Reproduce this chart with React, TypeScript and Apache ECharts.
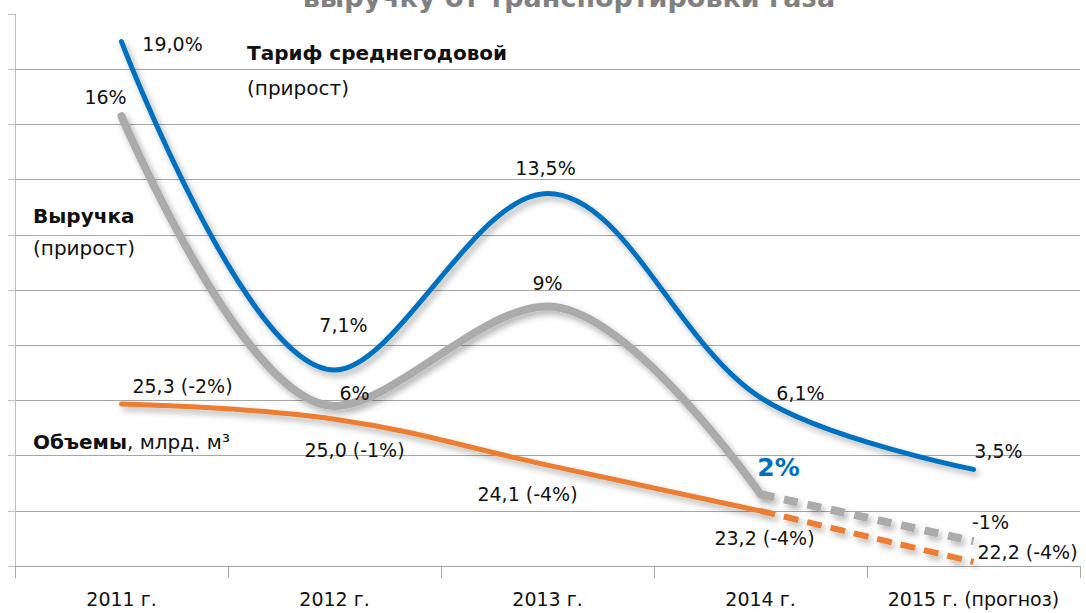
import React, { useEffect, useRef } from 'react';
import * as echarts from 'echarts';

const categories = ['2011 г.', '2012 г.', '2013 г.', '2014 г.', '2015 г. (прогноз)'];

const tariffValues = [19.0, 7.1, 13.5, 6.1, 3.5];
const tariffLabels = ['19,0%', '7,1%', '13,5%', '6,1%', '3,5%'];

// revenue growth line (as plotted in the picture) – solid part and forecast part
const revenueSolid: (number | null)[] = [16.3, 5.8, 9.4, 2.6, null];
const revenueForecast: (number | null)[] = [null, null, null, 2.6, 0.9];
const revenueLabels = ['16%', '6%', '9%', '2%', '-1%'];

// volumes, bcm
const volumeSolid: (number | null)[] = [25.3, 25.0, 24.1, 23.2, null];
const volumeForecast: (number | null)[] = [null, null, null, 23.2, 22.2];
const volumeLabels = ['25,3 (-2%)', '25,0 (-1%)', '24,1 (-4%)', '23,2 (-4%)', '22,2 (-4%)'];

const FONT = '"DejaVu Sans", sans-serif';

// label offsets (positions, kept apart from data)
const tariffOffsets = [[51, 2], [9, -45], [-2, -25], [40, -5], [25, -18]];
const revenueOffsets = [[-16, -19], [20, -13], [0, -24], [18, -27], [17, -19]];
const volumeOffsets = [[61, -18], [20, 31], [-20, 29], [4, 27], [54, -10]];

function buildData(values: (number | null)[], labels: string[], offsets: number[][], showIdx: number[]) {
  return values.map((v, i) => {
    if (v == null) return '-';
    return {
      value: v,
      label: showIdx.includes(i)
        ? { show: true, offset: offsets[i], formatter: labels[i] }
        : { show: false },
    };
  });
}

const baseLabel = {
  show: true,
  position: 'inside',
  fontSize: 19,
  fontFamily: FONT,
  color: '#111',
};

const shadow = {
  shadowColor: 'rgba(0,0,0,0.3)',
  shadowBlur: 6,
  shadowOffsetX: 3,
  shadowOffsetY: 4,
};

export default function App() {
  const ref = useRef<HTMLDivElement>(null);
  useEffect(() => {
    if (!ref.current) return;
    const chart = echarts.init(ref.current, undefined, { renderer: 'svg' });
    const gridColors = ['transparent', '#a6a6a6', '#a6a6a6', '#a6a6a6', '#a6a6a6', '#a6a6a6', '#a6a6a6', '#a6a6a6', '#a6a6a6', '#a6a6a6', 'transparent'];
    const symbolCommon = {
      showSymbol: true,
      symbol: 'circle',
      symbolSize: 1,
      itemStyle: { color: 'transparent', borderWidth: 0 },
    };
    const revData = buildData(revenueSolid, revenueLabels, revenueOffsets, [0, 1, 2, 3]) as any[];
    revData[3].label = {
      show: true,
      offset: revenueOffsets[3],
      formatter: revenueLabels[3],
      color: '#0070c0',
      fontWeight: 'bold',
      fontSize: 25,
    };
    chart.setOption({
      animation: false,
      grid: { left: 15, right: 6, top: 14, bottom: 47 },
      xAxis: {
        type: 'category',
        data: categories,
        boundaryGap: true,
        axisLine: { lineStyle: { color: '#a6a6a6', width: 1 } },
        axisTick: { show: true, interval: 0, length: 12, lineStyle: { color: '#a6a6a6' } },
        axisLabel: { interval: 0, fontSize: 19, fontFamily: FONT, color: '#111', margin: 23 },
      },
      yAxis: [
        {
          type: 'value',
          min: 0,
          max: 20,
          interval: 2,
          axisLine: { show: true, lineStyle: { color: '#bfbfbf' } },
          axisTick: { show: true, length: 7, lineStyle: { color: '#bfbfbf' } },
          axisLabel: { show: false },
          splitLine: { show: true, lineStyle: { color: gridColors, width: 1 } },
        },
        {
          type: 'value',
          min: 22.12,
          max: 32.95,
          show: false,
          splitLine: { show: false },
        },
      ],
      series: [
        {
          type: 'line',
          name: 'Выручка',
          yAxisIndex: 0,
          smooth: 0.35,
          data: revData,
          ...symbolCommon,
          lineStyle: { color: '#ababab', width: 8, cap: 'round', ...shadow },
          label: baseLabel,
          z: 2,
        },
        {
          type: 'line',
          name: 'Выручка прогноз',
          yAxisIndex: 0,
          data: buildData(revenueForecast, revenueLabels, revenueOffsets, [4]),
          ...symbolCommon,
          lineStyle: { color: '#ababab', width: 8, type: [14, 10], ...shadow },
          label: baseLabel,
          z: 2,
        },
        {
          type: 'line',
          name: 'Объемы',
          yAxisIndex: 1,
          smooth: 0.4,
          data: buildData(volumeSolid, volumeLabels, volumeOffsets, [0, 1, 2, 3]),
          ...symbolCommon,
          lineStyle: { color: '#ed7d31', width: 5, cap: 'round', ...shadow },
          label: baseLabel,
          z: 3,
        },
        {
          type: 'line',
          name: 'Объемы прогноз',
          yAxisIndex: 1,
          data: buildData(volumeForecast, volumeLabels, volumeOffsets, [4]),
          ...symbolCommon,
          lineStyle: { color: '#ed7d31', width: 6, type: [15, 9], ...shadow },
          label: baseLabel,
          z: 3,
        },
        {
          type: 'line',
          name: 'Тариф',
          yAxisIndex: 0,
          smooth: 0.35,
          data: buildData(tariffValues, tariffLabels, tariffOffsets, [0, 1, 2, 3, 4]),
          ...symbolCommon,
          lineStyle: { color: '#0070c0', width: 5, cap: 'round', ...shadow },
          label: baseLabel,
          z: 4,
        },
      ],
      graphic: [
        {
          type: 'text',
          x: 569,
          y: -3,
          style: {
            text: 'выручку от транспортировки газа',
            align: 'center',
            verticalAlign: 'middle',
            fontSize: 27,
            fontWeight: 'bold',
            fontFamily: FONT,
            fill: '#808080',
          },
        },
        {
          type: 'text',
          x: 247,
          y: 53,
          style: { text: 'Тариф среднегодовой', verticalAlign: 'middle', fontSize: 20, fontWeight: 'bold', fontFamily: FONT, fill: '#111' },
        },
        {
          type: 'text',
          x: 247,
          y: 88,
          style: { text: '(прирост)', verticalAlign: 'middle', fontSize: 20, fontFamily: FONT, fill: '#111' },
        },
        {
          type: 'text',
          x: 33,
          y: 216,
          style: { text: 'Выручка', verticalAlign: 'middle', fontSize: 20, fontWeight: 'bold', fontFamily: FONT, fill: '#111' },
        },
        {
          type: 'text',
          x: 33,
          y: 248,
          style: { text: '(прирост)', verticalAlign: 'middle', fontSize: 20, fontFamily: FONT, fill: '#111' },
        },
        {
          type: 'text',
          x: 33,
          y: 442,
          style: {
            text: '{b|Объемы}, млрд. м³',
            verticalAlign: 'middle',
            fontSize: 20,
            fontFamily: FONT,
            fill: '#111',
            rich: { b: { fontWeight: 'bold', fontSize: 20, fontFamily: FONT, fill: '#111' } },
          },
        },
      ],
    });
    return () => chart.dispose();
  }, []);
  return (
    <div
      ref={ref}
      style={{ position: 'fixed', left: 0, top: 0, width: 1086, height: 613, background: '#fff' }}
    />
  );
}
